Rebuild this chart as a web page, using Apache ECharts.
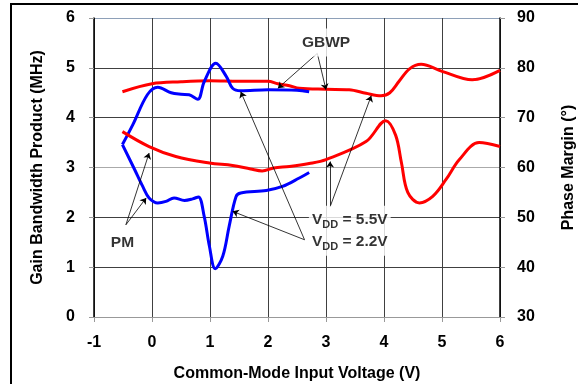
<!DOCTYPE html>
<html><head><meta charset="utf-8">
<script src="https://cdn.jsdelivr.net/npm/echarts@6/dist/echarts.min.js"></script>
<style>html,body{margin:0;padding:0;background:#fff}#c{width:578px;height:384px}</style>
</head><body><div id="c"></div>
<script>
// GBWP (left axis, MHz)
const gbwp55X = [-0.51, 0, 0.5, 1.0, 1.5, 2.0, 2.17, 2.37, 2.54, 3.0, 3.4, 3.69, 3.95, 4.1, 4.26, 4.44, 4.64, 5.0, 5.52, 6.0];
const gbwp55Y = [4.52, 4.68, 4.72, 4.74, 4.73, 4.73, 4.68, 4.64, 4.59, 4.57, 4.56, 4.49, 4.44, 4.50, 4.73, 4.98, 5.07, 4.93, 4.76, 4.95];
const gbwp22X = [-0.51, -0.33, -0.08, 0.1, 0.33, 0.5, 0.64, 0.79, 0.9, 1.1, 1.28, 1.39, 1.53, 2.0, 2.5, 2.71];
const gbwp22Y = [3.46, 3.86, 4.46, 4.61, 4.50, 4.47, 4.46, 4.37, 4.72, 5.09, 4.83, 4.59, 4.54, 4.56, 4.55, 4.52];
// Phase margin (right axis, degrees)
const pm55X = [-0.51, -0.05, 0.41, 0.99, 1.39, 1.7, 1.9, 2.1, 2.37, 2.71, 3.0, 3.69, 4.03, 4.2, 4.3, 4.41, 4.61, 4.84, 5.07, 5.3, 5.64, 6.0];
const pm55Y = [67.2, 64.2, 62.2, 60.9, 60.4, 59.7, 59.3, 59.9, 60.2, 60.8, 61.6, 65.2, 69.4, 66.5, 61.0, 55.0, 52.9, 54.2, 57.6, 61.6, 65.0, 64.2];
const pm22X = [-0.51, -0.3, -0.16, -0.05, 0.1, 0.24, 0.38, 0.56, 0.7, 0.8, 0.9, 0.99, 1.09, 1.22, 1.33, 1.45, 1.53, 1.97, 2.25, 2.54, 2.71];
const pm22Y = [64.6, 59.6, 56.2, 53.9, 52.9, 53.2, 53.9, 53.4, 53.7, 54.1, 50.2, 44.2, 39.7, 42.2, 48.2, 54.2, 54.9, 55.4, 56.2, 57.9, 59.0];

// Annotations (data coordinates on left axis)
const labelText = ['GBWP', 'PM', '{v|V}{s|DD}{v| = 5.5V}\n{v|V}{s|DD}{v| = 2.2V}'];
const labelAt = [[3.0, 5.51], [-0.51, 1.49], [3.41, 1.73]];
const arrowFrom = [[2.85, 5.29], [2.85, 5.29], [2.63, 1.55], [2.63, 1.55], [3.07, 2.21], [3.07, 2.21], [-0.45, 1.85], [-0.45, 1.85]];
const arrowTo = [[2.17, 4.59], [3.0, 4.56], [1.53, 4.52], [1.39, 2.12], [3.07, 3.12], [3.78, 4.44], [-0.1, 2.39], [-0.05, 3.29]];

const zip = (a, b) => a.map((v, i) => [v, b[i]]);
const FONT = '"Liberation Sans", Arial, sans-serif';

const chart = echarts.init(document.getElementById('c'), null, {renderer: 'canvas'});
const lineSeries = (name, xs, ys, color, yIdx) => ({
  name, type: 'line', yAxisIndex: yIdx, data: zip(xs, ys), smooth: 0.35,
  showSymbol: false, symbol: 'none', lineStyle: {color, width: 3}, z: 3, silent: true
});
chart.setOption({
  animation: false,
  backgroundColor: '#fff',
  grid: {left: 94, right: 78, top: 18, bottom: 67, containLabel: false, outerBoundsMode: 'none'},
  xAxis: {
    type: 'value', min: -1, max: 6, interval: 1,
    name: 'Common-Mode Input Voltage (V)', nameLocation: 'middle', nameGap: 49,
    nameTextStyle: {fontFamily: FONT, fontWeight: 'bold', fontSize: 16, color: '#000'},
    axisLine: {show: true, onZero: false, lineStyle: {color: '#999', width: 1}},
    axisTick: {show: true, length: 5, lineStyle: {color: '#999'}},
    axisLabel: {fontFamily: FONT, fontWeight: 'bold', fontSize: 16, color: '#000', margin: 18},
    splitLine: {show: true, lineStyle: {color: '#404040', width: 1}}
  },
  yAxis: [{
    type: 'value', min: 0, max: 6, interval: 1,
    name: 'Gain Bandwidth Product (MHz)', nameLocation: 'middle', nameGap: 48,
    nameTextStyle: {fontFamily: FONT, fontWeight: 'bold', fontSize: 16, color: '#000'},
    axisLine: {show: true, onZero: false, lineStyle: {color: '#000', width: 1.5}},
    axisTick: {show: true, length: 5, lineStyle: {color: '#999'}},
    axisLabel: {fontFamily: FONT, fontWeight: 'bold', fontSize: 16, color: '#000', margin: 19},
    splitLine: {show: true, lineStyle: {color: ['#999', '#404040', '#404040', '#aaa', '#404040', '#404040', '#8ea0b8'], width: 1}}
  }, {
    type: 'value', min: 30, max: 90, interval: 10, position: 'right',
    name: 'Phase Margin (°)', nameLocation: 'middle', nameGap: 61, nameRotate: 90,
    nameTextStyle: {fontFamily: FONT, fontWeight: 'bold', fontSize: 16, color: '#000'},
    axisLine: {show: true, onZero: false, lineStyle: {color: '#000', width: 1.5}},
    axisTick: {show: true, length: 5, lineStyle: {color: '#999'}},
    axisLabel: {fontFamily: FONT, fontWeight: 'bold', fontSize: 16, color: '#000', margin: 17},
    splitLine: {show: false}
  }],
  graphic: [{type: 'rect', shape: {x: 11, y: 4, width: 600, height: 420}, style: {fill: null, stroke: '#000', lineWidth: 2}, silent: true}],
  series: [
    lineSeries('GBWP 5.5V', gbwp55X, gbwp55Y, '#ff0000', 0),
    lineSeries('GBWP 2.2V', gbwp22X, gbwp22Y, '#0000ff', 0),
    lineSeries('PM 5.5V', pm55X, pm55Y, '#ff0000', 1),
    lineSeries('PM 2.2V', pm22X, pm22Y, '#0000ff', 1),
    {
      type: 'scatter', yAxisIndex: 0, z: 6, silent: true, symbolSize: 0,
      data: labelAt.map((p, i) => ({value: p, name: labelText[i]})),
      label: {
        show: true, position: 'inside', formatter: p => p.name,
        fontFamily: FONT, fontWeight: 'bold', fontSize: 15.5, color: '#000',
        backgroundColor: '#fff', padding: [3, 3, 3, 3], lineHeight: 22,
        rich: {
          v: {fontFamily: FONT, fontWeight: 'bold', fontSize: 15.5, color: '#000'},
          s: {fontFamily: FONT, fontWeight: 'bold', fontSize: 11, color: '#000', padding: [10, 0, 0, 0]}
        }
      },
      markLine: {
        silent: true, animation: false,
        symbol: ['none', 'arrow'], symbolSize: 6,
        label: {show: false},
        lineStyle: {color: '#000', width: 0.8, type: 'solid'},
        emphasis: {disabled: true},
        data: arrowFrom.map((f, i) => [{coord: f}, {coord: arrowTo[i]}])
      }
    }
  ]
});
</script></body></html>
